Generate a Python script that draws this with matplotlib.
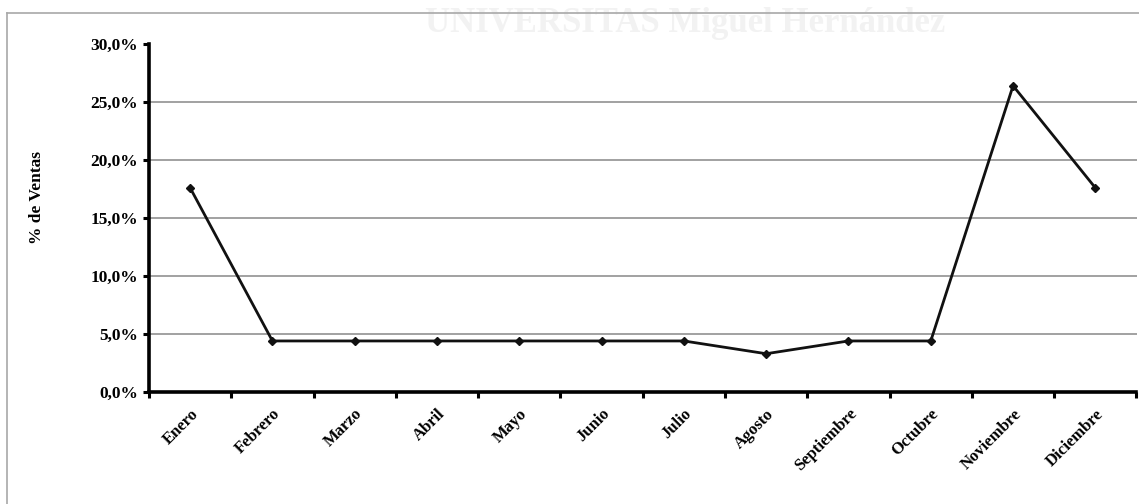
import matplotlib
matplotlib.use("Agg")
import matplotlib.pyplot as plt
from matplotlib.lines import Line2D
from matplotlib.transforms import ScaledTranslation
from matplotlib.ticker import FuncFormatter, MultipleLocator, FixedLocator

meses = ["Enero", "Febrero", "Marzo", "Abril", "Mayo", "Junio", "Julio",
         "Agosto", "Septiembre", "Octubre", "Noviembre", "Diciembre"]
ventas_pct = [17.6, 4.4, 4.4, 4.4, 4.4, 4.4, 4.4, 3.3, 4.4, 4.4, 26.4, 17.6]
y_label = "% de Ventas"

plt.rcParams["font.family"] = ["Liberation Serif", "DejaVu Serif"]
plt.rcParams["font.weight"] = "bold"

W, H = 1139, 504
fig = plt.figure(figsize=(W / 100, H / 100), dpi=100)
fig.patch.set_facecolor("white")

ax = fig.add_axes([149 / W, 1 - 392 / H, (1136.5 - 149) / W, (392 - 44) / H])

x = list(range(len(meses)))
ax.plot(x, ventas_pct, color="#111111", lw=2.0, marker="D", ms=4.5,
        markerfacecolor="#111111", markeredgecolor="#111111", zorder=3)

ax.set_xlim(-0.5, len(meses) - 0.5)
ax.set_ylim(0, 30)
ax.yaxis.set_major_locator(MultipleLocator(5))
ax.yaxis.set_major_formatter(FuncFormatter(lambda v, p: f"{v:.1f}%".replace(".", ",")))

ax.grid(axis="y", color="#9a9a9a", lw=1.3)
gl = ax.get_ygridlines()
for g, t in zip(gl, ax.get_yticks()):
    if t <= 0 or t >= 30:
        g.set_visible(False)
ax.set_axisbelow(True)

for s in ("top", "right"):
    ax.spines[s].set_visible(False)
for s in ("left", "bottom"):
    ax.spines[s].set_linewidth(2.6)
    ax.spines[s].set_color("black")

ax.set_xticks(x)
ax.set_xticklabels(meses, rotation=45, ha="right", va="top",
                   rotation_mode="anchor", fontsize=12, fontweight="bold")
shift = ScaledTranslation(-5 / 100, 0, fig.dpi_scale_trans)
for lab in ax.get_xticklabels():
    lab.set_transform(lab.get_transform() + shift)
ax.xaxis.set_minor_locator(FixedLocator([i - 0.5 for i in range(len(meses) + 1)]))
ax.tick_params(axis="x", which="major", length=0, pad=10)
ax.tick_params(axis="x", which="minor", length=4, width=2.2, direction="out")
ax.tick_params(axis="y", which="major", length=4, width=2.2, direction="out",
               labelsize=12.5, pad=4)
for lab in ax.get_yticklabels():
    lab.set_fontweight("bold")

fig.text(37 / W, 1 - 197 / H, y_label, rotation=90, ha="center", va="center",
         fontsize=12.5, fontweight="bold")

# faint watermark
fig.text(685 / W, 1 - 24 / H, "UNIVERSITAS Miguel Hernández", ha="center", va="center",
         fontsize=25, color="#f2f2f2", fontweight="bold", zorder=0)

# outer frame (top and left visible)
fig.add_artist(Line2D([7 / W, 7 / W], [0, 1 - 13 / H], transform=fig.transFigure,
                      color="#a8a8a8", lw=1.2))
fig.add_artist(Line2D([7 / W, 1], [1 - 13 / H, 1 - 13 / H], transform=fig.transFigure,
                      color="#a8a8a8", lw=1.2))

fig.savefig("out.png", dpi=100)
